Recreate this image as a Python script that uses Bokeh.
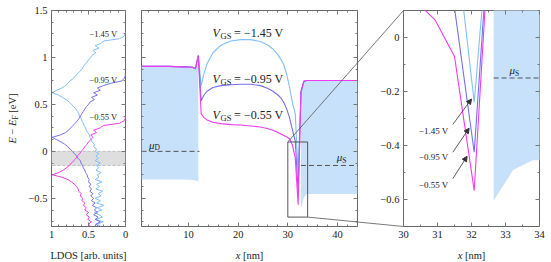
import math
import numpy as np
from bokeh.plotting import figure
from bokeh.layouts import row
from bokeh.models import (Range1d, LinearAxis, SingleIntervalTicker, CustomJSTickFormatter,
                          Arrow, NormalHead)
from bokeh.core.properties import value
from bokeh.embed import file_html
from bokeh.resources import INLINE

# ------------------------------------------------------------------ data
E_ldos = [-0.800, -0.775, -0.750, -0.725, -0.700, -0.675, -0.650, -0.625, -0.600, -0.575,
          -0.550, -0.525, -0.500, -0.475, -0.450, -0.425, -0.400, -0.375, -0.350, -0.325,
          -0.300, -0.275, -0.250, -0.225, -0.200, -0.175, -0.150, -0.125, -0.100, -0.075,
          -0.050, -0.025, 0.000, 0.025, 0.050, 0.075, 0.100, 0.125, 0.150, 0.175,
          0.200, 0.225, 0.250, 0.275, 0.300, 0.325, 0.350, 0.375, 0.400, 0.425,
          0.450, 0.475, 0.500, 0.525, 0.550, 0.575, 0.600, 0.625, 0.650, 0.675,
          0.700, 0.725, 0.750, 0.775, 0.800, 0.825, 0.850, 0.875, 0.900, 0.925,
          0.950, 0.975, 1.000, 1.025, 1.050, 1.075, 1.100, 1.125, 1.150, 1.175,
          1.200, 1.225, 1.250, 1.275, 1.300, 1.325, 1.350, 1.375, 1.400, 1.425,
          1.450, 1.475, 1.500]

ldos_145 = [0.33, 0.38, 0.30, 0.40, 0.31, 0.36, 0.42, 0.32, 0.38, 0.29,
            0.39, 0.34, 0.41, 0.33, 0.37, 0.31, 0.40, 0.35, 0.39, 0.32,
            0.41, 0.36, 0.38, 0.33, 0.40, 0.36, 0.39, 0.34, 0.41, 0.37,
            0.40, 0.36, 0.41, 0.39, 0.43, 0.42, 0.45, 0.46, 0.48, 0.49,
            0.51, 0.53, 0.54, 0.56, 0.57, 0.59, 0.60, 0.62, 0.63, 0.65,
            0.67, 0.70, 0.73, 0.76, 0.80, 0.85, 0.91, 0.99, 0.93, 0.86,
            0.81, 0.78, 0.75, 0.71, 0.68, 0.65, 0.62, 0.59, 0.57, 0.55,
            0.52, 0.50, 0.47, 0.45, 0.40, 0.44, 0.36, 0.41, 0.33, 0.30,
            0.08, 0.02, 0.005, 0.0, 0.0, 0.0, 0.0, 0.0, 0.0, 0.0,
            0.0, 0.0, 0.0]
ldos_095 = [0.36, 0.40, 0.34, 0.41, 0.37, 0.43, 0.38, 0.42, 0.39, 0.45,
            0.41, 0.46, 0.43, 0.47, 0.44, 0.48, 0.46, 0.49, 0.47, 0.50,
            0.49, 0.51, 0.52, 0.54, 0.55, 0.57, 0.58, 0.60, 0.61, 0.64,
            0.66, 0.69, 0.72, 0.75, 0.78, 0.82, 0.87, 0.93, 0.99, 0.88,
            0.81, 0.77, 0.74, 0.71, 0.68, 0.65, 0.63, 0.61, 0.59, 0.57,
            0.55, 0.53, 0.50, 0.48, 0.42, 0.46, 0.38, 0.43, 0.34, 0.38,
            0.30, 0.20, 0.05, 0.02, 0.005, 0.0, 0.0, 0.0, 0.0, 0.0,
            0.0, 0.0, 0.0, 0.0, 0.0, 0.0, 0.0, 0.0, 0.0, 0.0,
            0.0, 0.0, 0.0, 0.0, 0.0, 0.0, 0.0, 0.0, 0.0, 0.0,
            0.0, 0.0, 0.0]
ldos_055 = [0.47, 0.50, 0.46, 0.51, 0.49, 0.53, 0.50, 0.55, 0.53, 0.57,
            0.55, 0.59, 0.58, 0.61, 0.60, 0.63, 0.64, 0.66, 0.69, 0.73,
            0.78, 0.86, 0.99, 0.90, 0.84, 0.80, 0.76, 0.73, 0.70, 0.67,
            0.65, 0.62, 0.60, 0.57, 0.55, 0.52, 0.50, 0.47, 0.44, 0.47,
            0.39, 0.43, 0.34, 0.30, 0.08, 0.02, 0.005, 0.0, 0.0, 0.0,
            0.0, 0.0, 0.0, 0.0, 0.0, 0.0, 0.0, 0.0, 0.0, 0.0,
            0.0, 0.0, 0.0, 0.0, 0.0, 0.0, 0.0, 0.0, 0.0, 0.0,
            0.0, 0.0, 0.0, 0.0, 0.0, 0.0, 0.0, 0.0, 0.0, 0.0,
            0.0, 0.0, 0.0, 0.0, 0.0, 0.0, 0.0, 0.0, 0.0, 0.0,
            0.0, 0.0, 0.0]

x_nm = [0.5, 3.0, 6.0, 9.0, 10.8, 11.38, 11.955, 12.53, 13.1, 13.7, 14.9, 16.5, 18.5, 20.5,
        22.5, 24.5, 26.0, 27.0, 28.0, 28.6, 29.2, 29.78, 30.35, 30.93, 31.5, 32.08, 32.65,
        33.23, 33.8, 36.0, 40.0, 44.05]
band_145 = [0.905, 0.905, 0.905, 0.9, 0.895, 0.88, 1.02, 0.70, 0.83, 0.93, 1.05, 1.13, 1.175,
            1.19, 1.19, 1.17, 1.13, 1.09, 1.03, 0.98, 0.92, 0.82, 0.68, 0.52, 0.40, -0.24,
            0.62, 0.74, 0.755, 0.755, 0.755, 0.755]
band_095 = [0.905, 0.905, 0.905, 0.9, 0.895, 0.88, 1.02, 0.54, 0.60, 0.64, 0.68, 0.70, 0.71,
            0.715, 0.715, 0.70, 0.67, 0.64, 0.60, 0.57, 0.52, 0.45, 0.36, 0.23, 0.11, -0.425,
            0.63, 0.745, 0.755, 0.755, 0.755, 0.755]
band_055 = [0.905, 0.905, 0.905, 0.9, 0.895, 0.88, 1.02, 0.40, 0.36, 0.335, 0.31, 0.295, 0.285,
            0.28, 0.27, 0.26, 0.24, 0.225, 0.20, 0.185, 0.17, 0.155, 0.135, 0.065, -0.07, -0.567,
            0.64, 0.75, 0.755, 0.755, 0.755, 0.755]

vgs_text = ["\u22121.45 V", "\u22120.95 V", "\u22120.55 V"]
colors = ["#80bff8", "#7470ee", "#f03cf0"]

fillD_x = [0.5, 3.0, 6.0, 9.0, 11.0, 11.955]
fillD_top = [0.905, 0.905, 0.905, 0.9, 0.895, 0.9]
fillD_bot = [-0.30, -0.30, -0.30, -0.30, -0.305, -0.32]
fillS_x = [32.65, 33.23, 33.8, 36.0, 44.05]
fillS_top = [0.64, 0.75, 0.755, 0.755, 0.755]
fillS_bot = [-0.605, -0.49, -0.455, -0.455, -0.455]

mu_D = 0.0
mu_S = -0.15
E_range = [-0.8, 1.5]
x_range_nm = [0.5, 44.05]
zoom_x = [30.0, 34.0]
zoom_y = [-0.7, 0.1]

# ------------------------------------------------------------------ styling / layout
FONT = "Liberation Serif"
TXT = "#222222"
FRAME = "#666666"
TICK = "#777777"
FILL = "#c8e1fa"
CONN = "#555555"

H, BT, BB = 262, 10, 36
W1, B1L, B1R = 131, 51, 6
W2, B2L, B2R = 232, 10, 6
W3, B3L, B3R = 188, 40, 12
Hf = H - BT - BB
W1f = W1 - B1L - B1R
W2f = W2 - B2L - B2R
W3f = W3 - B3L - B3R

W_REG = {' ': .25, '[': .333, ']': .333, 'a': .444, 'b': .5, 'e': .444, 'i': .278,
         'm': .778, 'n': .5, 'r': .333, 's': .389, 't': .278, 'u': .5, 'V': .722,
         'D': .722, 'F': .556, 'G': .722, 'S': .556, 'L': .611, 'O': .722, '=': .564,
         '\u2212': .564, '.': .25}
W_IT = {'E': .611, 'V': .611, 'x': .444, '\u03bc': .5}


def tw(s, size, italic=False):
    tab = W_IT if italic else W_REG
    return sum(tab.get(c, .5) for c in s) * size


def rich(p, sx, sy, x, y, pieces, align="left", angle=0.0, dx=0.0, dy=0.0):
    """Text pieces (text, size, italic, subscript_shift[, fixed_pos]) drawn as overlay text
    glyphs centred vertically on (x, y) + pixel offsets (dy positive = downwards);
    sx/sy are data units per pixel."""
    single = len(pieces) == 1
    total = sum(tw(pc[0], pc[1], pc[2]) for pc in pieces)
    start = 0.0 if single else {"left": 0.0, "center": -total / 2, "right": -total}[align]
    pos = start
    for pc in pieces:
        t, s, it, sh = pc[:4]
        if len(pc) > 4:
            pos = start + pc[4]
        lead = (len(t) - len(t.lstrip(" "))) * W_REG[" "] * s
        core = t.strip(" ")
        ppos = pos + lead
        if angle == 0:
            xd = x + (dx + ppos) * sx
            yd = y - (dy + sh) * sy
        else:
            xd = x + (dx + sh) * sx
            yd = y + (ppos - dy) * sy
        p.text(x=[xd], y=[yd], text=[core], angle=angle, text_font=value(FONT),
               text_font_size=f"{s}px", text_font_style="italic" if it else "normal",
               text_color=TXT, text_baseline="middle",
               text_align=align if single else "left", level="overlay")
        pos += tw(t, s, it)


FMT_CODE = "var s = (Math.round(tick*1000)/1000).toString(); return s.replace('-', '\u2212');"


def add_axis(p, side, interval, minor, labels):
    ax = LinearAxis(ticker=SingleIntervalTicker(interval=interval, num_minor_ticks=minor))
    ax.axis_line_color = None
    ax.major_tick_in = 4
    ax.major_tick_out = 0
    ax.minor_tick_in = 2
    ax.minor_tick_out = 0
    ax.major_tick_line_color = TICK
    ax.minor_tick_line_color = TICK
    if labels:
        ax.formatter = CustomJSTickFormatter(code=FMT_CODE)
        ax.major_label_text_font = FONT
        ax.major_label_text_font_size = "10.5px"
        ax.major_label_text_color = TXT
        ax.major_label_standoff = 4
    else:
        ax.formatter = CustomJSTickFormatter(code="return '';")
        ax.major_label_text_font_size = "0px"
        ax.major_label_standoff = 0
    p.add_layout(ax, side)
    return ax


def make_fig(w, bl, br, xr, yr):
    p = figure(width=w, height=H, x_range=Range1d(*xr), y_range=Range1d(*yr),
               output_backend="svg", toolbar_location=None,
               min_border_left=bl, min_border_right=br, min_border_top=BT,
               min_border_bottom=BB, x_axis_location=None, y_axis_location=None)
    p.xgrid.visible = False
    p.ygrid.visible = False
    p.outline_line_color = FRAME
    p.outline_line_width = 1
    p.background_fill_color = "white"
    p.border_fill_color = "white"
    return p


# ------------------------------------------------------------------ panel 1: LDOS
p1 = make_fig(W1, B1L, B1R, (1.0, 0.0), E_range)
sx1 = (0.0 - 1.0) / W1f
sy1 = (E_range[1] - E_range[0]) / Hf
add_axis(p1, "below", 0.5, 5, True)
add_axis(p1, "above", 0.5, 5, False)
add_axis(p1, "left", 0.5, 4, True)
add_axis(p1, "right", 0.5, 4, False)

p1.varea(x=[0.0, 1.0], y1=[mu_S, mu_S], y2=[mu_D, mu_D], fill_color="#dedede")
for mu in (mu_D, mu_S):
    p1.line(x=[0.0, 1.0], y=[mu, mu], line_color="#b5b5b5", line_dash="3 2", line_width=0.8)

for vals, col in zip((ldos_145, ldos_095, ldos_055), colors):
    arr = np.array(vals)
    last = int(np.nonzero(arr > 0)[0][-1]) + 2
    p1.line(x=list(arr[:last]), y=E_ldos[:last], line_color=col, line_width=1.0)

ldos_lab_x = 0.11
ldos_lab_y = [1.25, 0.755, 0.363]
for t, yy in zip(vgs_text, ldos_lab_y):
    rich(p1, sx1, sy1, ldos_lab_x, yy, [(t, 8.5, False, 0)], align="right")

rich(p1, sx1, sy1, 0.5, E_range[0], [("LDOS [arb. units]", 10.5, False, 0)],
     align="center", dy=28.5)
rich(p1, sx1, sy1, 1.0, (E_range[0] + E_range[1]) / 2,
     [("E", 10.5, True, 0), (" \u2212 ", 10.5, False, 0), ("E", 10.5, True, 0),
      ("F", 7.5, False, 2.5), (" [eV]", 10.5, False, 0)],
     align="center", angle=math.pi / 2, dx=-39)

# ------------------------------------------------------------------ panel 2: band profile
p2 = make_fig(W2, B2L, B2R, x_range_nm, E_range)
sx2 = (x_range_nm[1] - x_range_nm[0]) / W2f
sy2 = sy1
add_axis(p2, "below", 10, 5, True)
add_axis(p2, "above", 10, 5, False)
add_axis(p2, "left", 0.5, 4, False)
add_axis(p2, "right", 0.5, 4, False)

p2.varea(x=fillD_x, y1=fillD_bot, y2=fillD_top, fill_color=FILL)
p2.varea(x=fillS_x, y1=fillS_bot, y2=fillS_top, fill_color=FILL)
p2.line(x=[fillD_x[0], 12.2], y=[mu_D, mu_D], line_color="#444444", line_dash="5 3", line_width=0.9)
p2.line(x=[fillS_x[0], fillS_x[-1]], y=[mu_S, mu_S], line_color="#444444", line_dash="5 3", line_width=0.9)
for vals, col in zip((band_145, band_095, band_055), colors):
    p2.line(x=x_nm, y=vals, line_color=col, line_width=1.1)
p2.quad(left=zoom_x[0], right=zoom_x[1], bottom=zoom_y[0], top=zoom_y[1],
        fill_color=None, line_color="#444444", line_width=0.9)

vgs_lab_x = 14.84
vgs_lab_y = [1.261, 0.771, 0.391]
for t, yy in zip(vgs_text, vgs_lab_y):
    rich(p2, sx2, sy2, vgs_lab_x, yy, [("V", 12, True, 0, 0.0), ("GS", 8.5, False, 3.5, 8.0),
                                       ("= " + t, 12, False, 0, 21.5)])
rich(p2, sx2, sy2, 2.01, 0.071, [("\u03bc", 11, True, 0), ("D", 7.5, False, 3)])
rich(p2, sx2, sy2, 39.86, -0.064, [("\u03bc", 11, True, 0), ("S", 7.5, False, 3)])
rich(p2, sx2, sy2, (x_range_nm[0] + x_range_nm[1]) / 2, E_range[0],
     [("x", 10.5, True, 0), (" [nm]", 10.5, False, 0)], align="center", dy=28.5)

# ------------------------------------------------------------------ panel 3: zoom
p3 = make_fig(W3, B3L, B3R, zoom_x, zoom_y)
sx3 = (zoom_x[1] - zoom_x[0]) / W3f
sy3 = (zoom_y[1] - zoom_y[0]) / Hf
add_axis(p3, "below", 1, 2, True)
add_axis(p3, "above", 1, 2, False)
add_axis(p3, "left", 0.2, 2, True)
add_axis(p3, "right", 0.2, 2, False)

p3.varea(x=fillS_x, y1=fillS_bot, y2=fillS_top, fill_color=FILL)
p3.line(x=[fillS_x[0], fillS_x[-1]], y=[mu_S, mu_S], line_color="#444444", line_dash="5 3", line_width=0.9)
for vals, col in zip((band_145, band_095, band_055), colors):
    p3.line(x=x_nm, y=vals, line_color=col, line_width=1.1)
rich(p3, sx3, sy3, 33.12, -0.122, [("\u03bc", 11, True, 0), ("S", 7.5, False, 3)])
rich(p3, sx3, sy3, (zoom_x[0] + zoom_x[1]) / 2, zoom_y[0],
     [("x", 10.5, True, 0), (" [nm]", 10.5, False, 0)], align="center", dy=28.5)

arrow_start = [(31.45, -0.322), (31.45, -0.425), (31.45, -0.523)]
arrow_end = [(32.0, -0.228), (31.93, -0.336), (31.87, -0.44)]
zlab_x = 31.32
zlab_y = [-0.348, -0.443, -0.548]
for t, yy, (xs, ys), (xe, ye) in zip(vgs_text, zlab_y, arrow_start, arrow_end):
    rich(p3, sx3, sy3, zlab_x, yy, [(t, 9, False, 0)], align="right")
    p3.add_layout(Arrow(x_start=xs, y_start=ys, x_end=xe, y_end=ye, line_color="#333333",
                        line_width=0.8,
                        end=NormalHead(size=5, fill_color="#333333", line_color="#333333")))

# ------------------------------------------------------------------ connectors (spy lines)
X2L = W1 + B2L
X3L = W1 + W2 + B3L


def x2_to_px(x):
    return X2L + (x - x_range_nm[0]) / (x_range_nm[1] - x_range_nm[0]) * W2f


def px_to_x2(px):
    return x_range_nm[0] + (px - X2L) / W2f * (x_range_nm[1] - x_range_nm[0])


def px_to_x3(px):
    return zoom_x[0] + (px - X3L) / W3f * (zoom_x[1] - zoom_x[0])


def E2_to_E3(E):
    return zoom_y[0] + (E - E_range[0]) / (E_range[1] - E_range[0]) * (zoom_y[1] - zoom_y[0])


far_x2 = px_to_x2(X3L)
conn = [((zoom_x[0], zoom_y[1]), (E_range[1], zoom_y[1])),
        ((zoom_x[1], zoom_y[0]), (E_range[0], zoom_y[0]))]
for (cx, cy), (far_e2, far_e3) in conn:
    p2.line(x=[cx, far_x2], y=[cy, far_e2], line_color=CONN, line_width=0.8, level="overlay")
    p3.line(x=[px_to_x3(x2_to_px(cx)), zoom_x[0]], y=[E2_to_E3(cy), far_e3],
            line_color=CONN, line_width=0.8, level="overlay")

layout = row(p1, p2, p3)
open("out.html", "w").write(file_html(layout, INLINE))
